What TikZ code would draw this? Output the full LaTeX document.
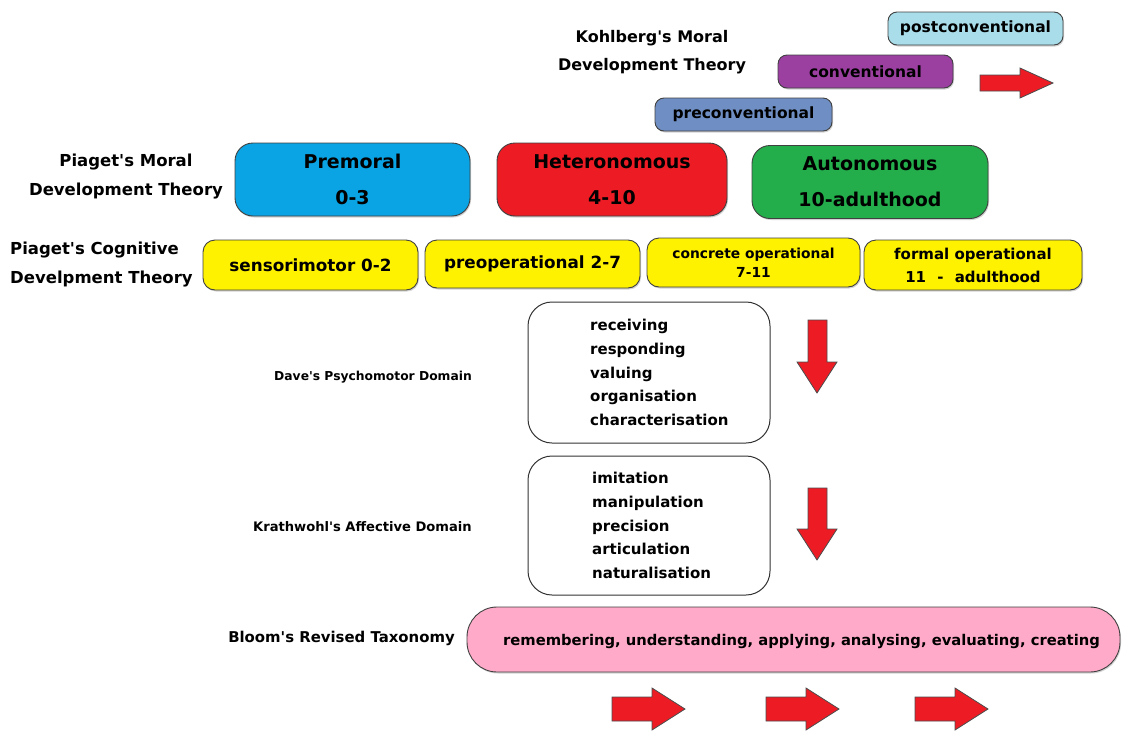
\documentclass[tikz,border=0pt]{standalone}
\usepackage{fontspec}
\setmainfont{DejaVu Sans}[Ligatures=TeXOff]
\usetikzlibrary{shadows}
\definecolor{postc}{HTML}{A8DDE9}
\definecolor{convc}{HTML}{9B3FA1}
\definecolor{prec}{HTML}{6F8FC4}
\definecolor{premc}{HTML}{0AA3E3}
\definecolor{hetc}{HTML}{ED1C24}
\definecolor{autc}{HTML}{23AE4B}
\definecolor{yelc}{HTML}{FFF200}
\definecolor{pinkc}{HTML}{FFAAC8}
\definecolor{arrc}{HTML}{ED1C24}
\tikzset{
  lbl/.style={font=\bfseries\fontsize{16}{28}\selectfont, align=center, inner sep=0pt},
  kbox/.style={draw=black!75, line width=0.9pt, rounded corners=9pt, minimum height=33pt, inner sep=0pt,
     font=\bfseries\fontsize{15.5}{18}\selectfont, drop shadow={shadow xshift=1pt, shadow yshift=-1.5pt, fill=black!35}},
  pbox/.style={draw=black!75, line width=0.9pt, rounded corners=18pt, minimum height=73pt, inner sep=0pt, align=center,
     font=\bfseries\fontsize{19}{36}\selectfont, drop shadow={shadow xshift=1pt, shadow yshift=-1.5pt, fill=black!35}},
  ybox/.style={draw=black!75, line width=0.9pt, fill=yelc, rounded corners=12pt, minimum height=49pt, inner sep=0pt, align=center,
     drop shadow={shadow xshift=1pt, shadow yshift=-1.5pt, fill=black!35}},
  wbox/.style={draw=black!80, line width=1pt, fill=white, rounded corners=24pt, minimum width=242pt, inner sep=0pt},
  listtxt/.style={font=\bfseries\fontsize{15}{23.7}\selectfont, align=left, inner sep=0pt, anchor=west},
  redarrow/.style={fill=arrc, draw=black!70, line width=0.8pt, line join=miter},
}
\begin{document}
\begin{tikzpicture}[x=1pt,y=-1pt]
\useasboundingbox (0,0) rectangle (1125,731);
% Kohlberg
\node[lbl] (kohl) at (652,52) {Kohlberg's Moral\\Development Theory};
\node[kbox, fill=postc, minimum width=175pt] (post) at (975.5,28.5) {postconventional};
\node[kbox, fill=convc, minimum width=175pt] (conv) at (865.5,71.5) {conventional};
\node[kbox, fill=prec, minimum width=177pt] (prec) at (743.5,114.5) {preconventional};
\draw[redarrow] (980,75) -- (1020,75) -- (1020,68) -- (1053,83) -- (1020,98) -- (1020,91) -- (980,91) -- cycle;
% Piaget moral
\node[lbl, font=\bfseries\fontsize{16.5}{29}\selectfont] (pmor) at (126,177) {Piaget's Moral\\Development Theory};
\node[pbox, fill=premc, minimum width=235pt] (prem) at (352.5,179.5) {Premoral\\0-3};
\node[pbox, fill=hetc, minimum width=230pt] (het) at (612,179.5) {Heteronomous\\4-10};
\node[pbox, fill=autc, minimum width=236pt] (aut) at (870,182) {Autonomous\\10-adulthood};
% Piaget cognitive
\node[lbl, align=left, anchor=west, font=\bfseries\fontsize{16.5}{29}\selectfont] (pcog) at (10,265) {Piaget's Cognitive\\Develpment Theory};
\node[ybox, minimum width=215pt, minimum height=50pt, font=\bfseries\fontsize{16.8}{18}\selectfont] (sens) at (310.5,265) {sensorimotor 0-2};
\node[ybox, minimum width=215pt, minimum height=48pt, font=\bfseries\fontsize{16.8}{18}\selectfont] (preop) at (532.5,264) {preoperational 2-7};
\node[ybox, minimum width=213pt, font=\bfseries\fontsize{13.8}{19}\selectfont] (conc) at (753.5,262.5) {concrete operational\\7-11};
\node[ybox, minimum width=218pt, minimum height=50pt, font=\bfseries\fontsize{15}{23}\selectfont] (form) at (973,265) {formal operational\\11\hspace{6pt} -\hspace{6pt} adulthood};
% Dave
\node[lbl, anchor=east, font=\bfseries\fontsize{12.3}{16}\selectfont] (davel) at (472,377) {Dave's Psychomotor Domain};
\node[wbox, minimum height=141pt] (dave) at (649,372.5) {};
\node[listtxt] (davet) at (590,372.5) {receiving\\responding\\valuing\\organisation\\characterisation};
\draw[redarrow] (808,320) -- (827,320) -- (827,362) -- (837,362) -- (817,393) -- (797,362) -- (808,362) -- cycle;
% Krathwohl
\node[lbl, anchor=east, font=\bfseries\fontsize{13.1}{16}\selectfont] (krathl) at (472,527) {Krathwohl's Affective Domain};
\node[wbox, minimum height=139pt] (krath) at (649,525.5) {};
\node[listtxt] (kratht) at (592,525.5) {imitation\\manipulation\\precision\\articulation\\naturalisation};
\draw[redarrow] (808,488) -- (827,488) -- (827,529) -- (837,529) -- (817,560) -- (797,529) -- (808,529) -- cycle;
% Bloom
\node[lbl, anchor=east, font=\bfseries\fontsize{14.9}{16}\selectfont] (blooml) at (455,638) {Bloom's Revised Taxonomy};
\node[draw=black!75, line width=0.9pt, fill=pinkc, rounded corners=30pt, minimum width=653pt, minimum height=65pt,
  inner sep=0pt, drop shadow={shadow xshift=1pt, shadow yshift=-1.5pt, fill=black!35}] (bloom) at (793.5,639.5) {};
\node[inner sep=0pt, font=\bfseries\fontsize{14.75}{18}\selectfont] (bloomt) at (801.5,641.5)
  {remembering, understanding, applying, analysing, evaluating, creating};
\foreach \x in {612,766,915}{
  \draw[redarrow] (\x,697) -- (\x+40,697) -- (\x+40,688) -- (\x+73,709) -- (\x+40,730) -- (\x+40,721) -- (\x,721) -- cycle;
}
\end{tikzpicture}
\end{document}
